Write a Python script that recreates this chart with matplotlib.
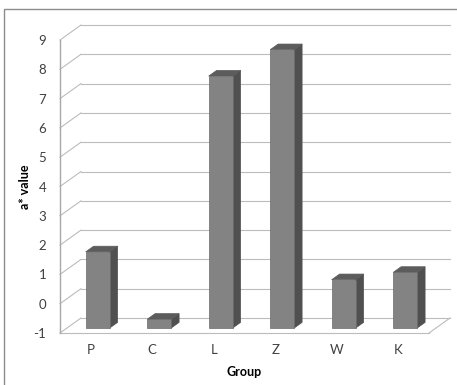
import numpy as np
import matplotlib.pyplot as plt
from matplotlib.patches import Polygon, Rectangle

plt.rcParams['font.family'] = ['Lato', 'DejaVu Sans']
plt.rcParams['axes.unicode_minus'] = False

# data
groups = ["P", "C", "L", "Z", "W", "K"]
a_values = [1.6, -0.7, 7.6, 8.5, 0.65, 0.9]
y_ticks = list(range(-1, 10))

# fake 3d settings (depth offset in data units)
DX, DY = 0.34, 0.51
z0, z1 = 0.33, 0.71
half_w = 0.195
floor = -1

fig = plt.figure(figsize=(4.57, 3.85), dpi=100)
ax = fig.add_axes([60/457, 52/385, 369/457, 293/385])
ax.set_xlim(-0.5, 5.5)
ax.set_ylim(-1, 9)
for s in ax.spines.values():
    s.set_visible(False)

grid_c = "#bcbcbc"
# side wall diagonals + back wall gridlines
for v in y_ticks:
    ax.plot([-0.5, -0.5 + DX], [v, v + DY], color=grid_c, lw=0.8, zorder=1, clip_on=False)
    ax.plot([-0.5 + DX, 5.5 + DX], [v + DY, v + DY], color=grid_c, lw=0.8, zorder=1, clip_on=False)
# floor
ax.plot([-0.5, 5.5], [floor, floor], color=grid_c, lw=0.8, zorder=1, clip_on=False)
ax.plot([5.5, 5.5 + DX], [floor, floor + DY], color=grid_c, lw=0.8, zorder=1, clip_on=False)
# front vertical axis
ax.plot([-0.5, -0.5], [-1, 9], color="#a8a8a8", lw=1.0, zorder=1, clip_on=False)

# bars
for i, v in enumerate(a_values):
    xl = i + z0 * DX - half_w
    xr = i + z0 * DX + half_w
    yb = floor + z0 * DY
    yt = v + z0 * DY
    ddx = (z1 - z0) * DX
    ddy = (z1 - z0) * DY
    side = Polygon([(xr, yb), (xr + ddx, yb + ddy), (xr + ddx, yt + ddy), (xr, yt)],
                   closed=True, facecolor="#505050", edgecolor="#505050", lw=0.5, zorder=3, clip_on=False)
    top = Polygon([(xl, yt), (xr, yt), (xr + ddx, yt + ddy), (xl + ddx, yt + ddy)],
                  closed=True, facecolor="#5c5c5c", edgecolor="#5c5c5c", lw=0.5, zorder=3, clip_on=False)
    front = Rectangle((xl, yb), xr - xl, yt - yb, facecolor="#838383",
                      edgecolor="#6a6a6a", lw=0.5, zorder=4, clip_on=False)
    ax.add_patch(side)
    ax.add_patch(top)
    ax.add_patch(front)

ax.set_xticks(range(len(groups)))
ax.set_xticklabels(groups)
ax.set_yticks(y_ticks)
ax.tick_params(axis="both", length=0, labelsize=9.5, colors="#404040")
ax.tick_params(axis="x", pad=8)
ax.tick_params(axis="y", pad=10)
ax.set_xlabel("Group", fontsize=9, fontweight="bold", labelpad=7)
fig.text(25/457, 1 - 187/385, "a* value", rotation=90, fontsize=9, fontweight="bold",
         ha="center", va="center")

# chart border
fig.patches.append(Rectangle((4/457, -0.1), 1.2, (385 - 9)/385 + 0.1, transform=fig.transFigure,
                             fill=False, edgecolor="#8c8c8c", lw=1.0))

fig.savefig("out.png", dpi=100)
